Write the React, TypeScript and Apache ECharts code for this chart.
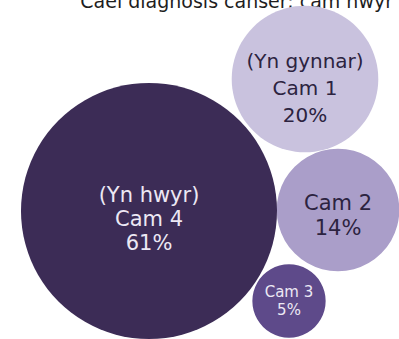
import React, { useEffect, useRef } from "react";
import * as echarts from "echarts";

const stageNames = ["Cam 1", "Cam 2", "Cam 3", "Cam 4"];
const stageNotes = ["(Yn gynnar)", "", "", "(Yn hwyr)"];
const stagePercent = [20, 14, 5, 61];
// packed-layout centres of the bubbles (chart units)
const layoutX = [305, 338, 289, 149];
const layoutY = [79, 210, 301, 211];
const titleText = "Cael diagnosis canser: cam hwyr";

const fills = ["#c9c2de", "#aa9ec9", "#5e4a8a", "#3c2c56"];
const textColors = ["#2c2340", "#2c2340", "#ece8f4", "#ece8f4"];
const fontSizes = [20, 21, 15, 21];
const lineHeights = [27, 25, 18, 24];
const labelShift = [9, 5, 0, 8];

export default function App() {
  const ref = useRef<HTMLDivElement>(null);
  useEffect(() => {
    if (!ref.current) return;
    const chart = echarts.init(ref.current, undefined, { renderer: "svg" });
    const k = 256 / Math.sqrt(61);
    const data = stageNames.map((n, i) => ({
      value: [layoutX[i], layoutY[i], stagePercent[i]],
      itemStyle: { color: fills[i], opacity: 1 },
      label: {
        show: true,
        position: "inside",
        offset: [0, labelShift[i]],
        color: textColors[i],
        fontSize: fontSizes[i],
        lineHeight: lineHeights[i],
        fontFamily: "DejaVu Sans",
        formatter: (stageNotes[i] ? stageNotes[i] + "\n" : "") + n + "\n" + stagePercent[i] + "%",
      },
    }));
    chart.setOption({
      animation: false,
      backgroundColor: "#ffffff",
      grid: { left: 0, right: 0, top: 0, bottom: 0 },
      xAxis: { type: "value", min: 0, max: 399, show: false },
      yAxis: { type: "value", min: 0, max: 339, inverse: true, show: false },
      graphic: [
        {
          type: "text",
          x: 393,
          y: 10,
          style: {
            text: titleText,
            fontSize: 19,
            fill: "#1e1e1e",
            fontFamily: "DejaVu Sans",
            align: "right",
            verticalAlign: "bottom",
          },
        },
      ],
      series: [
        {
          type: "scatter",
          symbol: "circle",
          symbolSize: (v: number[]) => k * Math.sqrt(v[2]),
          data,
          emphasis: { disabled: true },
        },
      ],
    });
    return () => chart.dispose();
  }, []);
  return (
    <div
      ref={ref}
      style={{ position: "fixed", left: 0, top: 0, width: 399, height: 339 }}
    />
  );
}
